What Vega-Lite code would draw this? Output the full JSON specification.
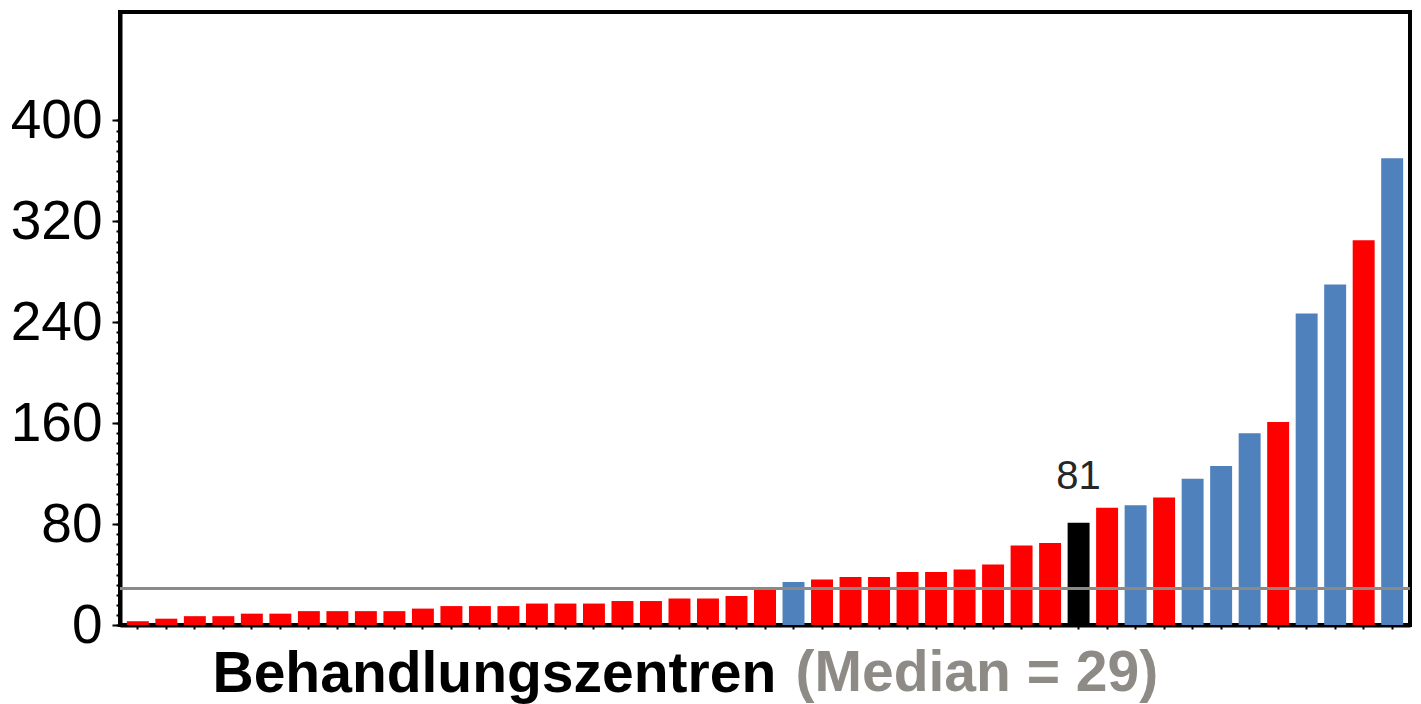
{
  "$schema": "https://vega.github.io/schema/vega-lite/v6.json",
  "autosize": "none",
  "width": 1290,
  "height": 613,
  "padding": {"left": 120, "top": 12, "right": 11, "bottom": 79},
  "background": "white",
  "config": {"view": {"stroke": "black", "strokeWidth": 4}, "font": "Liberation Sans"},
  "data": {"values": [
    {"rang": 1, "wert": 3, "gruppe": "A"},
    {"rang": 2, "wert": 5, "gruppe": "A"},
    {"rang": 3, "wert": 7, "gruppe": "A"},
    {"rang": 4, "wert": 7, "gruppe": "A"},
    {"rang": 5, "wert": 9, "gruppe": "A"},
    {"rang": 6, "wert": 9, "gruppe": "A"},
    {"rang": 7, "wert": 11, "gruppe": "A"},
    {"rang": 8, "wert": 11, "gruppe": "A"},
    {"rang": 9, "wert": 11, "gruppe": "A"},
    {"rang": 10, "wert": 11, "gruppe": "A"},
    {"rang": 11, "wert": 13, "gruppe": "A"},
    {"rang": 12, "wert": 15, "gruppe": "A"},
    {"rang": 13, "wert": 15, "gruppe": "A"},
    {"rang": 14, "wert": 15, "gruppe": "A"},
    {"rang": 15, "wert": 17, "gruppe": "A"},
    {"rang": 16, "wert": 17, "gruppe": "A"},
    {"rang": 17, "wert": 17, "gruppe": "A"},
    {"rang": 18, "wert": 19, "gruppe": "A"},
    {"rang": 19, "wert": 19, "gruppe": "A"},
    {"rang": 20, "wert": 21, "gruppe": "A"},
    {"rang": 21, "wert": 21, "gruppe": "A"},
    {"rang": 22, "wert": 23, "gruppe": "A"},
    {"rang": 23, "wert": 30, "gruppe": "A"},
    {"rang": 24, "wert": 34, "gruppe": "B"},
    {"rang": 25, "wert": 36, "gruppe": "A"},
    {"rang": 26, "wert": 38, "gruppe": "A"},
    {"rang": 27, "wert": 38, "gruppe": "A"},
    {"rang": 28, "wert": 42, "gruppe": "A"},
    {"rang": 29, "wert": 42, "gruppe": "A"},
    {"rang": 30, "wert": 44, "gruppe": "A"},
    {"rang": 31, "wert": 48, "gruppe": "A"},
    {"rang": 32, "wert": 63, "gruppe": "A"},
    {"rang": 33, "wert": 65, "gruppe": "A"},
    {"rang": 34, "wert": 81, "gruppe": "Eigenes"},
    {"rang": 35, "wert": 93, "gruppe": "A"},
    {"rang": 36, "wert": 95, "gruppe": "B"},
    {"rang": 37, "wert": 101, "gruppe": "A"},
    {"rang": 38, "wert": 116, "gruppe": "B"},
    {"rang": 39, "wert": 126, "gruppe": "B"},
    {"rang": 40, "wert": 152, "gruppe": "B"},
    {"rang": 41, "wert": 161, "gruppe": "A"},
    {"rang": 42, "wert": 247, "gruppe": "B"},
    {"rang": 43, "wert": 270, "gruppe": "B"},
    {"rang": 44, "wert": 305, "gruppe": "A"},
    {"rang": 45, "wert": 370, "gruppe": "B"}
  ]},
  "resolve": {"axis": {"y": "independent"}},
  "layer": [
    {
      "mark": {"type": "bar"},
      "encoding": {
        "x": {
          "field": "rang", "type": "ordinal", "sort": null,
          "scale": {"paddingInner": 0.23, "paddingOuter": 0.24},
          "axis": {
            "title": "Behandlungszentren",
            "titleFontSize": 57, "titleFontWeight": "bold", "titleColor": "black",
            "titleFont": "Liberation Sans",
            "titleAnchor": "start", "titleAlign": "left", "titleBaseline": "alphabetic",
            "titleX": 92, "titleY": 66,
            "labels": false, "ticks": true, "tickSize": 4, "tickWidth": 2, "tickColor": "black",
            "domainColor": "black", "domainWidth": 4, "grid": false
          }
        },
        "y": {
          "field": "wert", "type": "quantitative",
          "scale": {"domain": [0, 486], "nice": false},
          "axis": {
            "title": null, "grid": false, "orient": "left",
            "values": [0, 80, 160, 240, 320, 400],
            "labelOverlap": false, "labelFlush": false,
            "labelFontSize": 55, "labelColor": "black", "labelFont": "Liberation Sans", "labelPadding": 10,
            "tickSize": 8, "tickWidth": 2, "tickColor": "black",
            "domainColor": "black", "domainWidth": 4
          }
        },
        "color": {
          "field": "gruppe", "type": "nominal",
          "scale": {"domain": ["A", "B", "Eigenes"], "range": ["#FF0000", "#4F81BD", "#000000"]},
          "legend": null
        }
      }
    },
    {
      "data": {"values": [{"median": 29}]},
      "mark": {"type": "rule", "color": "#8C8A87", "strokeWidth": 3},
      "encoding": {
        "y": {
          "field": "median", "type": "quantitative",
          "axis": {
            "title": null, "grid": false, "orient": "left", "labels": false, "domain": false,
            "values": [0,8,16,24,32,40,48,56,64,72,80,88,96,104,112,120,128,136,144,152,160,168,176,184,192,200,208,216,224,232,240,248,256,264,272,280,288,296,304,312,320,328,336,344,352,360,368,376,384,392,400],
            "tickSize": 4, "tickWidth": 2, "tickColor": "black"
          }
        }
      }
    },
    {
      "transform": [{"filter": "datum.gruppe === 'Eigenes'"}],
      "mark": {"type": "text", "fontSize": 40, "color": "#262626", "baseline": "alphabetic", "dy": -34},
      "encoding": {
        "x": {"field": "rang", "type": "ordinal"},
        "y": {"field": "wert", "type": "quantitative", "axis": null},
        "text": {"field": "wert", "type": "quantitative"}
      }
    },
    {
      "data": {"values": [{"rang": 24, "text": "(Median = 29)"}]},
      "mark": {"type": "text", "fontSize": 57, "fontWeight": "bold", "color": "#8E8B87", "align": "left", "baseline": "alphabetic", "dx": 2, "clip": false},
      "encoding": {
        "x": {"field": "rang", "type": "ordinal"},
        "y": {"datum": -52.3, "axis": null},
        "text": {"field": "text"}
      }
    }
  ]
}
